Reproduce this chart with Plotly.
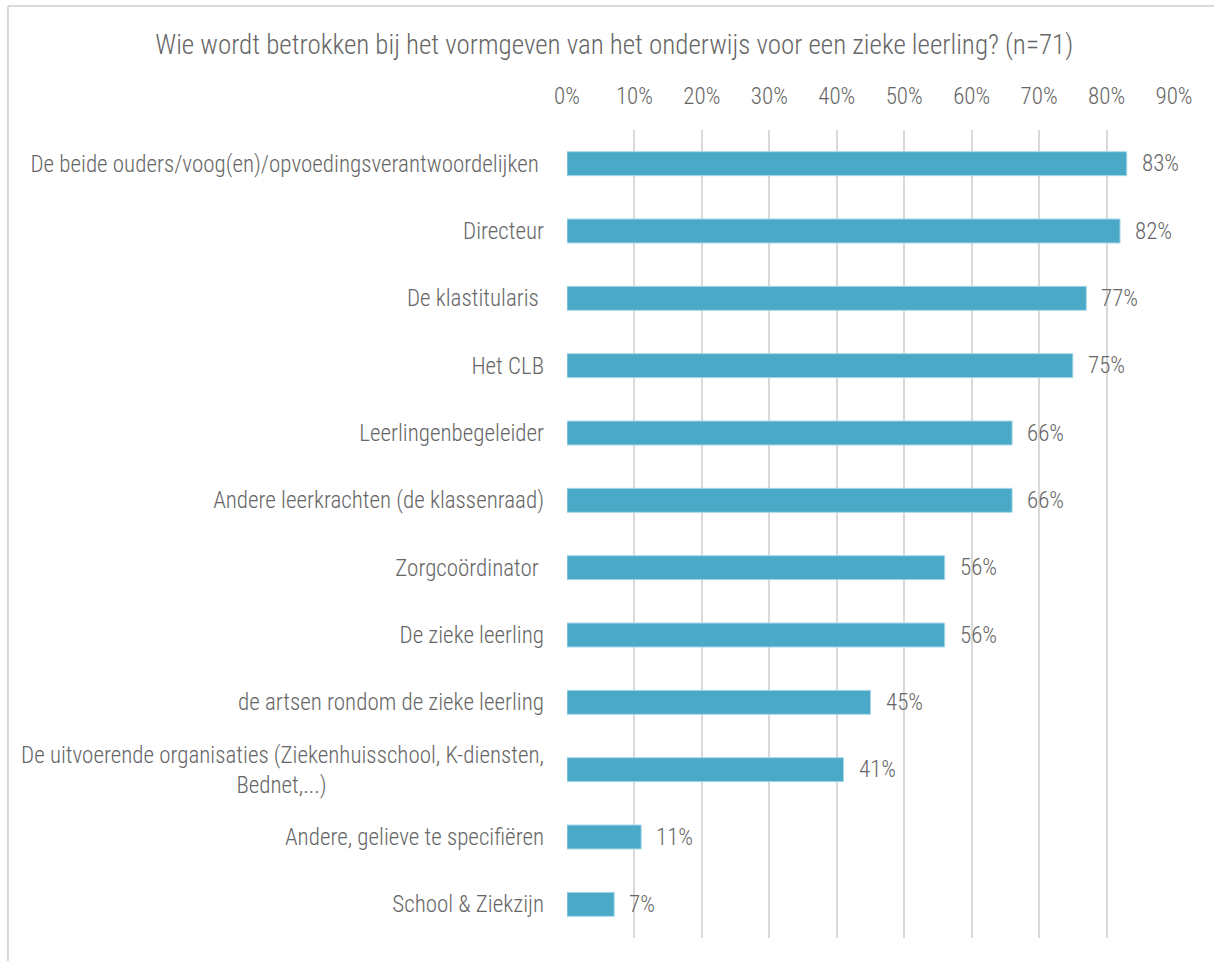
import plotly.graph_objects as go

# Survey results: who is involved in shaping education for a sick pupil (n=71)
categories = [
    "De beide ouders/voog(en)/opvoedingsverantwoordelijken ",
    "Directeur",
    "De klastitularis ",
    "Het CLB",
    "Leerlingenbegeleider",
    "Andere leerkrachten (de klassenraad)",
    "Zorgcoördinator ",
    "De zieke leerling",
    "de artsen rondom de zieke leerling",
    "De uitvoerende organisaties (Ziekenhuisschool, K-diensten,<br>Bednet,...)" + " " * 42,
    "Andere, gelieve te specifiëren",
    "School & Ziekzijn",
]
percentages = [83, 82, 77, 75, 66, 66, 56, 56, 45, 41, 11, 7]
tick_values = [0, 0.1, 0.2, 0.3, 0.4, 0.5, 0.6, 0.7, 0.8, 0.9]
tick_labels = ["0%", "10%", "20%", "30%", "40%", "50%", "60%", "70%", "80%", "90%"]
title_text = "Wie wordt betrokken bij het vormgeven van het onderwijs voor een zieke leerling? (n=71)"

FONT = "Roboto Condensed, Liberation Sans Narrow, DejaVu Sans Condensed, Roboto, sans-serif"
TEXT_COLOR = "#666666"
BAR_COLOR = "#4BA9C8"
GRID_COLOR = "#d9d9d9"

shares = [p / 100 for p in percentages]

fig = go.Figure()
fig.add_trace(go.Bar(
    x=shares,
    y=categories,
    orientation="h",
    width=0.356,
    marker=dict(color=BAR_COLOR, line=dict(color="#a8d8e8", width=1)),
    hoverinfo="skip",
))

# value labels just right of each bar
for cat, share, pct in zip(categories, shares, percentages):
    fig.add_annotation(
        x=share, y=cat, xref="x", yref="y",
        text=f"{pct}%", showarrow=False,
        xanchor="left", yanchor="middle", xshift=13,
        font=dict(family=FONT, size=23, color=TEXT_COLOR, weight=300),
    )

# chart frame (top and left edge)
fig.add_shape(type="line", xref="paper", yref="paper",
              x0=-0.921, x1=1.2, y0=1.1535, y1=1.1535,
              line=dict(color=GRID_COLOR, width=2))
fig.add_shape(type="line", xref="paper", yref="paper",
              x0=-0.921, x1=-0.921, y0=-0.04, y1=1.1535,
              line=dict(color=GRID_COLOR, width=2))

fig.update_layout(
    width=1214, height=961,
    margin=dict(l=567, r=40, t=130, b=23),
    paper_bgcolor="white", plot_bgcolor="white",
    showlegend=False,
    font=dict(family=FONT, size=23, color=TEXT_COLOR, weight=300),
    title=dict(
        text=title_text,
        x=0.506, xref="container", xanchor="center",
        y=1 - 45 / 961, yref="container", yanchor="middle",
        font=dict(family=FONT, size=27, color=TEXT_COLOR, weight=300),
    ),
    xaxis=dict(
        side="top", range=[0, 0.9], tickvals=tick_values, ticktext=tick_labels,
        showgrid=True, gridcolor=GRID_COLOR, gridwidth=2,
        zeroline=False, showline=False, ticks="",
        ticklabelstandoff=20,
        tickfont=dict(family=FONT, size=23, color=TEXT_COLOR, weight=300),
    ),
    yaxis=dict(
        autorange="reversed", showgrid=False, zeroline=False, showline=False,
        ticks="", ticklabelstandoff=22,
        tickfont=dict(family=FONT, size=23, color=TEXT_COLOR, weight=300),
    ),
    bargap=0.644,
)

fig.write_html("out.html")
